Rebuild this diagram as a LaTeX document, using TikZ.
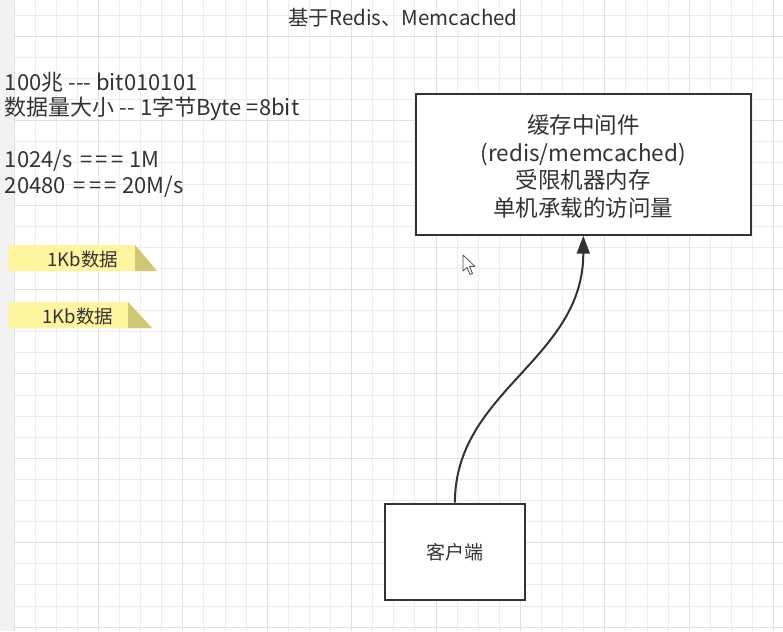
\documentclass[tikz,border=0pt]{standalone}
\usepackage{fontspec}
\setmainfont{Noto Sans CJK SC}[Ligatures=TeXOff]
\usetikzlibrary{arrows.meta}
\definecolor{gridminor}{RGB}{236,236,236}
\definecolor{gridmajor}{RGB}{224,224,224}
\definecolor{ink}{RGB}{51,51,51}
\definecolor{noteyellow}{RGB}{255,244,160}
\definecolor{notefold}{RGB}{207,198,118}
\newcommand{\eqthree}{\hspace{0.35em}=\kern0.15em=\kern0.15em=\hspace{0.25em}}

\begin{document}
\begin{tikzpicture}[x=1pt,y=1pt,yscale=-1,xscale=1,
	box/.style={draw=ink,line width=2pt,fill=white,inner sep=0pt},
	boxtext/.style={inner sep=0.75pt,align=center,text=ink},
	notetext/.style={inner sep=0.75pt,text=ink,font=\fontsize{18.5}{18.5}\selectfont},
	plain/.style={inner sep=0.75pt,text=ink,align=left}]
		\useasboundingbox (0,0) rectangle (783,631);
		\fill[white] (0,0) rectangle (783,631);
		\fill[black!5] (0,0) rectangle (14,631);
		% grid
		\foreach \i in {0,...,36} {\draw[gridminor,line width=1pt] ({14+21.1*\i},0) -- ({14+21.1*\i},631);}
		\foreach \j in {0,...,29} {\draw[gridminor,line width=1pt] (14,{15.2+21.1*\j}) -- (783,{15.2+21.1*\j});}
		\foreach \i in {0,4,...,36} {\draw[gridmajor,line width=1pt] ({14+21.1*\i},0) -- ({14+21.1*\i},631);}
		\foreach \j in {1,5,...,29} {\draw[gridmajor,line width=1pt] (14,{15.2+21.1*\j}) -- (783,{15.2+21.1*\j});}
		% texts
		\node[plain,font=\fontsize{20.5}{20.5}\selectfont] (title) at (403,18) {基于Redis、Memcached};
		\node[plain,anchor=north west,font=\fontsize{22}{25.8}\selectfont] (notes) at (4,71) {100兆 --- bit010101\\数据量大小 -- 1字节Byte =8bit\\[25.8pt]1024/s\eqthree 1M\\20480\eqthree 20M/s};
		% yellow notes
		\fill[noteyellow] (8,245) -- (135,245) -- (157,271) -- (8,271) -- cycle;
		\fill[notefold] (135,245) -- (157,271) -- (135,271) -- cycle;
		\node[notetext] (kbone) at (83,259) {1Kb数据};
		\fill[noteyellow] (8,302) -- (128,302) -- (152,328) -- (8,328) -- cycle;
		\fill[notefold] (128,302) -- (152,328) -- (128,328) -- cycle;
		\node[notetext] (kbtwo) at (78,316) {1Kb数据};
		% boxes
		\node[box,minimum width=335pt,minimum height=141pt] (cache) at (583.3,164.2) {};
		\node[boxtext,font=\fontsize{22.5}{27.7}\selectfont] (cachetext) at (583.3,166.4) {缓存中间件\\(redis/memcached)\\受限机器内存\\单机承载的访问量};
		\node[box,minimum width=140pt,minimum height=96pt] (client) at (454.9,551.7) {};
		\node[boxtext,font=\fontsize{19}{19}\selectfont] (clienttext) at (454.9,552) {客户端};
		% arrow
		\draw[ink,line width=2pt,-{Triangle[length=18pt,width=13pt]}] (client.north) .. controls +(0,-112) and +(0,124) .. (cache.south);
		% cursor
		\draw[black!70,fill=white,line width=0.8pt,line join=round] (463,255) -- (463,271) -- (467,267.5) -- (470,274.5) -- (472.5,273.5) -- (469.5,266.5) -- (475,266.5) -- cycle;
	\end{tikzpicture}
\end{document}
